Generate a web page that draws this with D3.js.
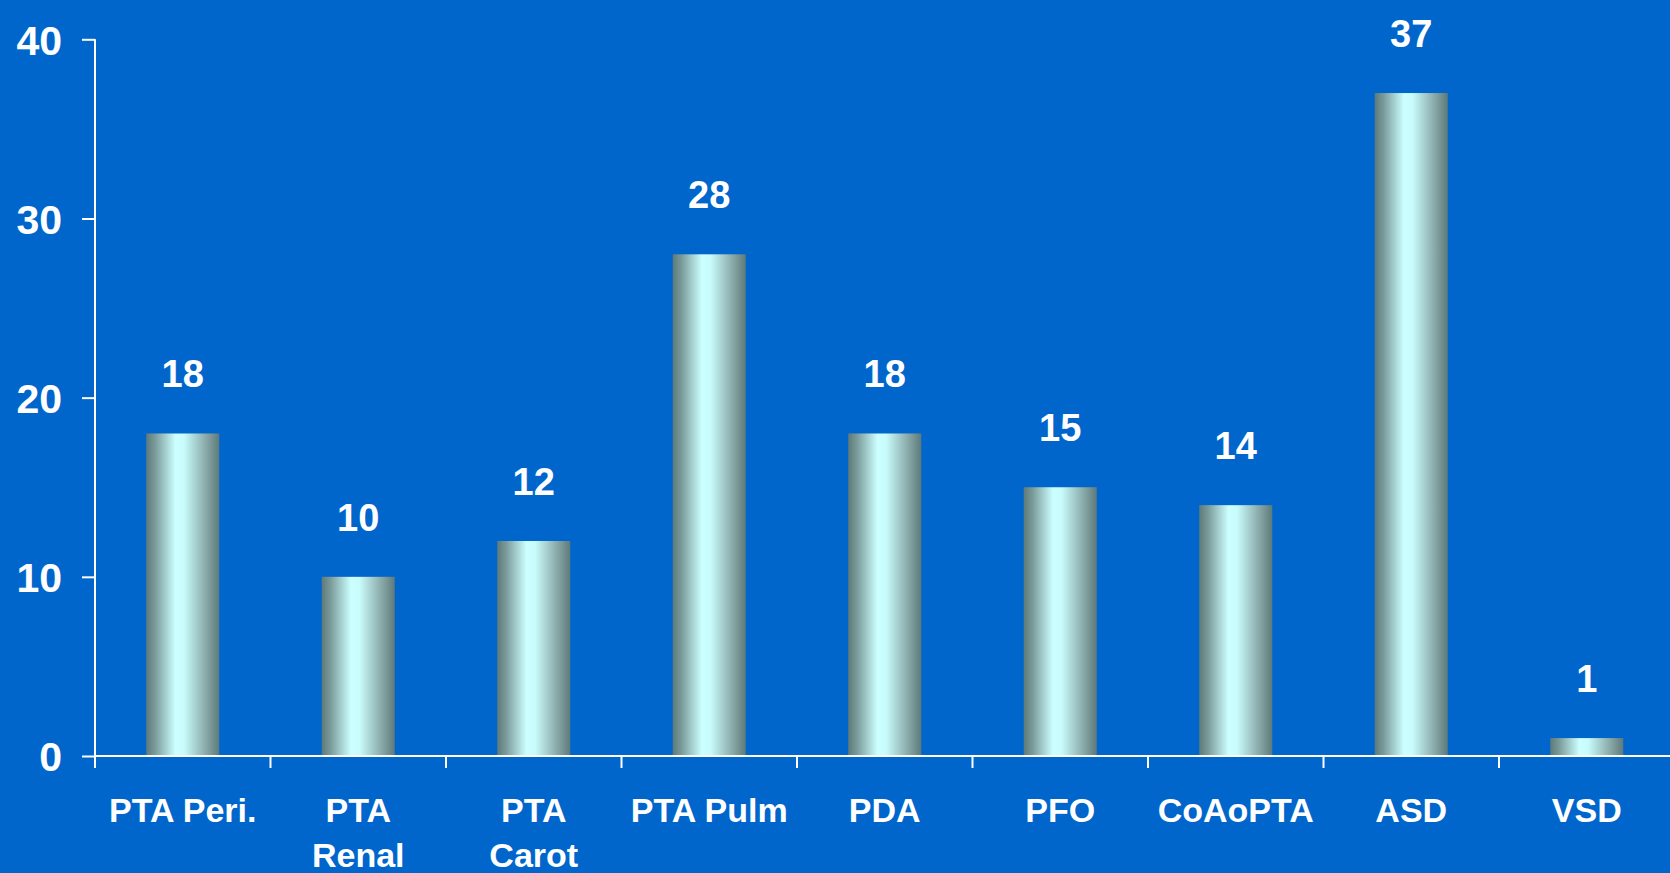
<!DOCTYPE html>
<html>
<head>
<meta charset="utf-8">
<script src="https://cdn.jsdelivr.net/npm/d3@7"></script>
<style>
  html, body { margin: 0; padding: 0; background: #0066CC; overflow: hidden; }
  svg { display: block; }
  text { font-family: "Liberation Sans", Arial, sans-serif; font-weight: bold; fill: #ffffff; }
</style>
</head>
<body>
<svg id="chart" width="1670" height="873"></svg>
<script>
// ---- data ----
const categories = ["PTA Peri.", "PTA|Renal", "PTA|Carot", "PTA Pulm", "PDA", "PFO", "CoAoPTA", "ASD", "VSD"];
const values = [18, 10, 12, 28, 18, 15, 14, 37, 1];
const yTicks = [0, 10, 20, 30, 40];

// ---- layout ----
const W = 1670, H = 873;
const mLeft = 95, mRight = 95 + 9 * 175.5, mTop = 39.3, mBottom = 756;

const svg = d3.select("#chart");
svg.append("rect").attr("width", W).attr("height", H).attr("fill", "#0066CC");

const defs = svg.append("defs");
const grad = defs.append("linearGradient").attr("id", "barGrad")
  .attr("x1", "0").attr("x2", "1").attr("y1", "0").attr("y2", "0");
[[0, "#5e7a7a"], [0.12, "#7a9a9a"], [0.4, "#ccffff"], [0.52, "#c8fbfb"], [0.8, "#8eaeae"], [1, "#5e7a7a"]]
  .forEach(([o, c]) => grad.append("stop").attr("offset", o).attr("stop-color", c));

const x = d3.scaleBand().domain(categories).range([mLeft, mRight])
  .paddingInner(0.584).paddingOuter(0.292);
const y = d3.scaleLinear().domain([0, 40]).range([mBottom, mTop]);

// bars
svg.selectAll("rect.bar").data(values).enter().append("rect")
  .attr("class", "bar")
  .attr("x", (d, i) => x(categories[i]))
  .attr("y", d => y(d))
  .attr("width", x.bandwidth())
  .attr("height", d => y(0) - y(d))
  .attr("fill", "url(#barGrad)");

// value labels
svg.selectAll("text.val").data(values).enter().append("text")
  .attr("class", "val")
  .attr("x", (d, i) => x(categories[i]) + x.bandwidth() / 2)
  .attr("y", d => y(d) - 46)
  .attr("text-anchor", "middle")
  .style("font-size", "38px")
  .text(d => d);

// y axis
const yAxis = d3.axisLeft(y).tickValues(yTicks).tickSize(13).tickPadding(20).tickFormat(d3.format("d"));
const gy = svg.append("g").attr("transform", `translate(${mLeft},0)`).call(yAxis);
gy.select(".domain").remove();
gy.selectAll(".tick line").attr("stroke", "#fff").attr("stroke-width", 2);
gy.selectAll(".tick text").style("font-size", "41px").attr("fill", "#fff")
  .attr("dy", "0.36em");
svg.append("line").attr("x1", mLeft).attr("x2", mLeft).attr("y1", mTop).attr("y2", mBottom)
  .attr("stroke", "#fff").attr("stroke-width", 2);

// x axis
svg.append("line").attr("x1", mLeft).attr("x2", W + 10).attr("y1", mBottom).attr("y2", mBottom)
  .attr("stroke", "#fff").attr("stroke-width", 2);
const step = x.step();
const boundaries = d3.range(categories.length + 1).map(i => mLeft + i * step);
svg.selectAll("line.xt").data(boundaries).enter().append("line")
  .attr("class", "xt")
  .attr("x1", d => d).attr("x2", d => d)
  .attr("y1", mBottom).attr("y2", mBottom + 12)
  .attr("stroke", "#fff").attr("stroke-width", 2);

// category labels
const gl = svg.append("g");
categories.forEach((c, i) => {
  const cx = x(c) + x.bandwidth() / 2;
  const t = gl.append("text").attr("text-anchor", "middle").style("font-size", "34px");
  c.split("|").forEach((line, j) => {
    t.append("tspan").attr("x", cx).attr("y", 822 + j * 45).text(line);
  });
});
</script>
</body>
</html>
